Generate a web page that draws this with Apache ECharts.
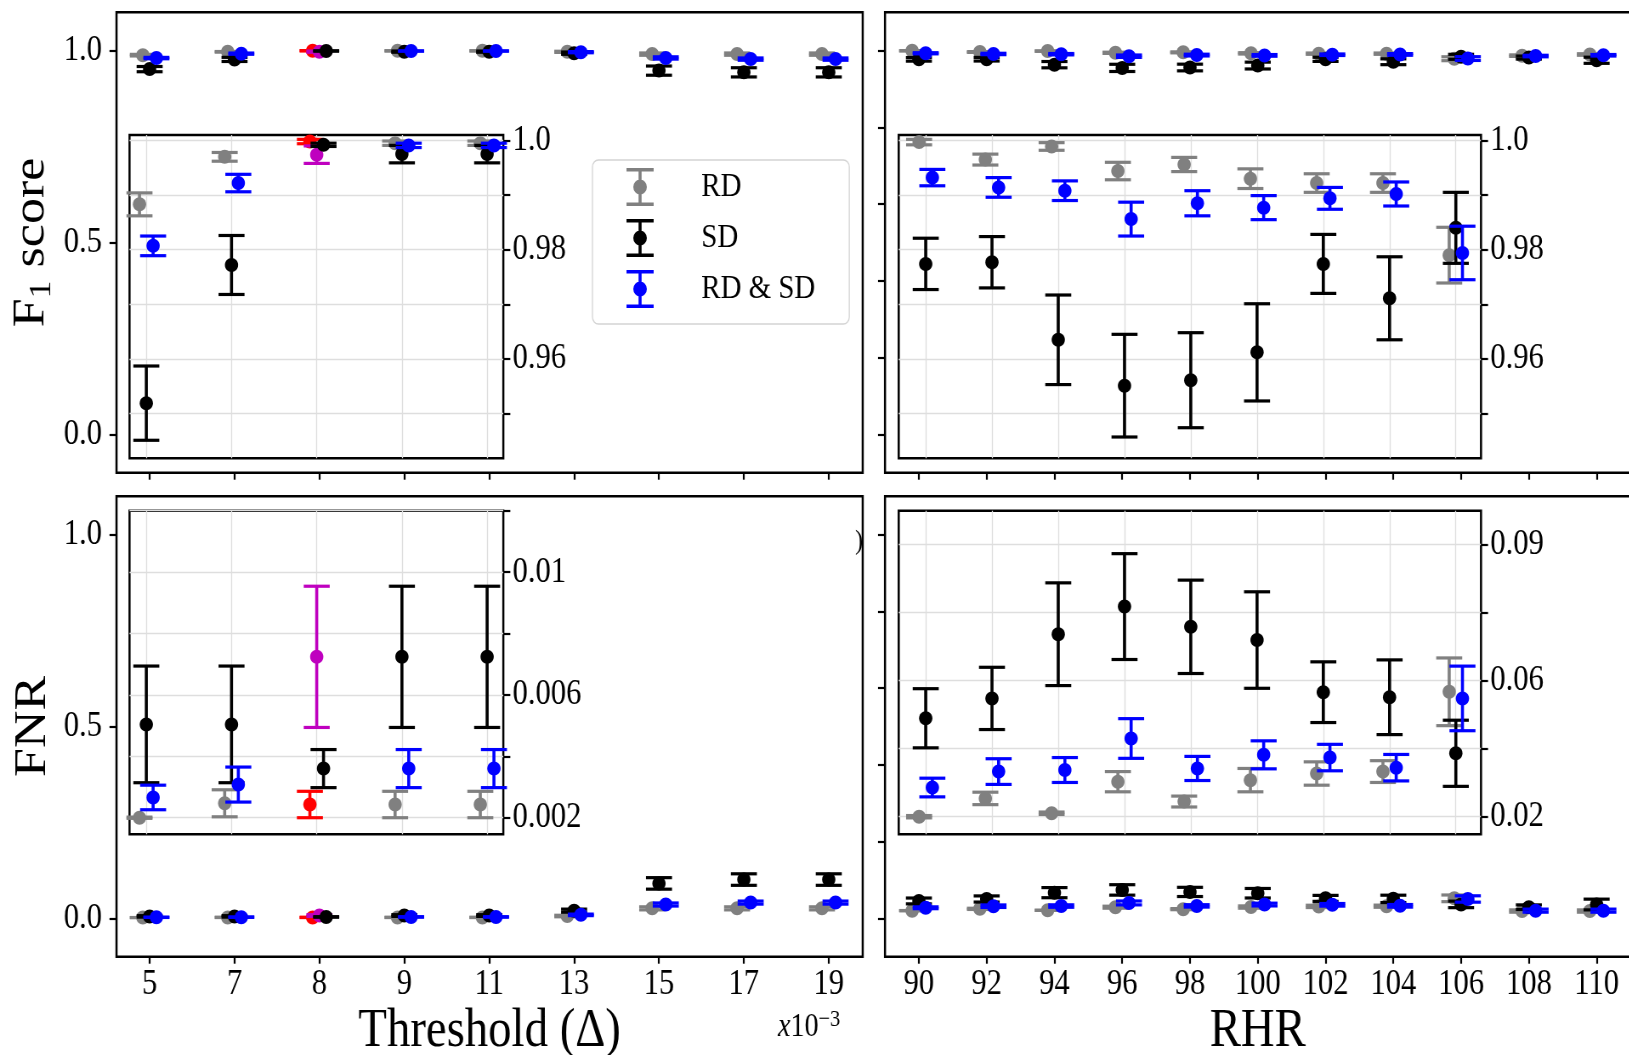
<!DOCTYPE html>
<html>
<head>
<meta charset="utf-8">
<script src="https://cdn.jsdelivr.net/npm/echarts@6/dist/echarts.min.js"></script>
<style>
  html, body { margin: 0; padding: 0; width: 1629px; height: 1055px; overflow: hidden; background: #fff; }
  #chart { height: 1055px; transform-origin: 0 0; }
</style>
</head>
<body>
<div id="chart"></div>
<script>
// ---------------------------------------------------------------------------
// Data: mean and standard error of the detection scores
// ---------------------------------------------------------------------------
const THRESHOLD_LABELS = ['5', '7', '8', '9', '11', '13', '15', '17', '19'];   // x10^-3
const RHR_VALUES = [90, 92, 94, 96, 98, 100, 102, 104, 106, 108, 110];
const SELECTED_THRESHOLD = '8';

// F1 score vs threshold
const F1_THR_RD        = [0.9883, 0.9970, 0.9998, 0.9995, 0.9995, 0.9970, 0.9910, 0.9910, 0.9910];
const F1_THR_RD_ERR    = [0.0021, 0.0008, 0.0004, 0.0004, 0.0004, 0.0015, 0.0030, 0.0030, 0.0030];
const F1_THR_SD        = [0.9519, 0.9772, 0.9974, 0.9975, 0.9975, 0.9935, 0.9480, 0.9435, 0.9435];
const F1_THR_SD_ERR    = [0.0068, 0.0054, 0.0016, 0.0016, 0.0016, 0.0030, 0.0120, 0.0120, 0.0120];
const F1_THR_RDSD      = [0.9807, 0.9922, 0.9992, 0.9991, 0.9991, 0.9960, 0.9810, 0.9780, 0.9780];
const F1_THR_RDSD_ERR  = [0.0018, 0.0016, 0.0003, 0.0004, 0.0004, 0.0015, 0.0030, 0.0030, 0.0030];

// FNR vs threshold
const FNR_THR_RD       = [0.00200, 0.00247, 0.00243, 0.00243, 0.00243, 0.006, 0.026, 0.026, 0.026];
const FNR_THR_RD_ERR   = [0.00002, 0.00044, 0.00043, 0.00043, 0.00043, 0.002, 0.004, 0.004, 0.004];
const FNR_THR_SD       = [0.00504, 0.00504, 0.00724, 0.00724, 0.00724, 0.020, 0.091, 0.101, 0.101];
const FNR_THR_SD_ERR   = [0.00190, 0.00190, 0.00230, 0.00230, 0.00230, 0.004, 0.015, 0.015, 0.015];
const FNR_THR_RDSD     = [0.00266, 0.00308, 0.00360, 0.00360, 0.00360, 0.009, 0.036, 0.041, 0.041];
const FNR_THR_RDSD_ERR = [0.00040, 0.00057, 0.00062, 0.00062, 0.00062, 0.002, 0.004, 0.004, 0.004];

// F1 score vs resting heart rate
const F1_RHR_RD        = [0.9997, 0.9965, 0.9989, 0.9944, 0.9956, 0.9930, 0.9922, 0.9922, 0.9790, 0.9870, 0.9900];
const F1_RHR_RD_ERR    = [0.0005, 0.0010, 0.0007, 0.0016, 0.0013, 0.0018, 0.0017, 0.0017, 0.0051, 0.0020, 0.0020];
const F1_RHR_SD        = [0.9774, 0.9777, 0.9635, 0.9551, 0.9561, 0.9612, 0.9774, 0.9711, 0.9840, 0.9820, 0.9750];
const F1_RHR_SD_ERR    = [0.0047, 0.0047, 0.0082, 0.0094, 0.0087, 0.0089, 0.0054, 0.0076, 0.0065, 0.0040, 0.0080];
const F1_RHR_RDSD      = [0.9932, 0.9914, 0.9908, 0.9856, 0.9885, 0.9877, 0.9894, 0.9902, 0.9794, 0.9860, 0.9880];
const F1_RHR_RDSD_ERR  = [0.0015, 0.0018, 0.0018, 0.0031, 0.0023, 0.0022, 0.0020, 0.0022, 0.0049, 0.0020, 0.0020];

// FNR vs resting heart rate
const FNR_RHR_RD       = [0.0200, 0.0247, 0.0209, 0.0290, 0.0239, 0.0294, 0.0311, 0.0316, 0.0521, 0.0190, 0.0190];
const FNR_RHR_RD_ERR   = [0.0003, 0.0016, 0.0003, 0.0026, 0.0014, 0.0030, 0.0030, 0.0028, 0.0087, 0.0030, 0.0030];
const FNR_RHR_SD       = [0.0453, 0.0504, 0.0669, 0.0740, 0.0688, 0.0654, 0.0520, 0.0507, 0.0363, 0.0290, 0.0360];
const FNR_RHR_SD_ERR   = [0.0076, 0.0080, 0.0132, 0.0136, 0.0120, 0.0124, 0.0078, 0.0096, 0.0085, 0.0060, 0.0140];
const FNR_RHR_RDSD     = [0.0275, 0.0316, 0.0320, 0.0401, 0.0324, 0.0359, 0.0352, 0.0326, 0.0504, 0.0200, 0.0200];
const FNR_RHR_RDSD_ERR = [0.0024, 0.0033, 0.0032, 0.0051, 0.0031, 0.0036, 0.0034, 0.0034, 0.0083, 0.0040, 0.0040];

// Points shown in the zoomed insets
const INSET_THRESHOLD_COUNT = 5;   // 5 .. 11
const INSET_RHR_COUNT = 9;         // 90 .. 106

// Tick values and labels
const MAIN_Y_TICKS_LEFT = [0, 0.5, 1.0];
const MAIN_Y_TICKS_RIGHT = [0, 0.2, 0.4, 0.6, 0.8, 1.0];
const F1_INSET_TICKS = [0.95, 0.96, 0.97, 0.98, 0.99, 1.0];
const F1_INSET_LABEL_VALUES = [0.96, 0.98, 1.0];
const F1_INSET_LABELS = ['0.96', '0.98', '1.0'];
const FNR_THR_INSET_TICKS = [0.002, 0.004, 0.006, 0.008, 0.010, 0.012];
const FNR_THR_INSET_LABEL_VALUES = [0.002, 0.006, 0.010];
const FNR_THR_INSET_LABELS = ['0.002', '0.006', '0.01'];
const FNR_RHR_INSET_TICKS = [0.02, 0.0375, 0.055, 0.0725, 0.09];
const FNR_RHR_INSET_LABEL_VALUES = [0.02, 0.055, 0.09];
const FNR_RHR_INSET_LABELS = ['0.02', '0.06', '0.09'];

// ---------------------------------------------------------------------------
// Styling / layout
// ---------------------------------------------------------------------------
const SX = 0.85;                       // horizontal compression of the figure
const FONT = "'Liberation Serif', 'Times New Roman', serif";
const C_RD = '#808080', C_SD = '#000000', C_RDSD = '#0000ff';
const C_SEL_RD = '#ff0000', C_SEL_SD = '#bf00bf', C_SEL_RDSD = '#000000';
const STEM_W = 3.6, CAP_W = 3.2, CAP_HALF = 15.3, MARK_RX = 7.8, MARK_RY = 7.0;
const TICK_FONT = 36;
const TITLE_FONT = 55;
const GRID_LINE = { color: '#dedede', width: 1.3 };

const el = document.getElementById('chart');
el.style.width = (1629 / SX) + 'px';
el.style.transform = 'scaleX(' + SX + ')';
const chart = echarts.init(el, null, { renderer: 'canvas' });

// rectangle given in page pixels -> grid box in chart pixels
function box(l, t, r, b, extra) {
  return Object.assign({
    left: l / SX, top: t, width: (r - l) / SX, height: b - t,
    outerBoundsMode: 'none', containLabel: false,
    show: true, borderColor: '#000', borderWidth: 2.5, backgroundColor: 'transparent'
  }, extra || {});
}

const grids = [
  box(116.5, 12.3, 862.7, 472.7),                         // 0 F1 vs threshold
  box(885, 12.3, 1630.5, 472.7),                          // 1 F1 vs RHR
  box(116.5, 496.2, 862.7, 956.7),                        // 2 FNR vs threshold
  box(885, 496.2, 1630.5, 956.7),                         // 3 FNR vs RHR
  box(129.5, 135, 503.3, 458.3, { backgroundColor: '#fff' }),   // 4 inset
  box(898.7, 135, 1481, 458.3, { backgroundColor: '#fff' }),    // 5 inset
  box(129.5, 510.7, 503.3, 834.3, { backgroundColor: '#fff' }), // 6 inset
  box(898.7, 510.7, 1481, 834.3, { backgroundColor: '#fff' })   // 7 inset
];

const thrIdx = THRESHOLD_LABELS.map((_, i) => i);
const selIdx = THRESHOLD_LABELS.indexOf(SELECTED_THRESHOLD);
const tickStyle = { color: '#000', width: 2.2 };
const labelBase = { fontFamily: FONT, fontSize: TICK_FONT, color: '#000' };
const noLine = { show: false, onZero: false };

function mainX(grid, min, max, ticks, fmt, showLabels, name) {
  return {
    gridIndex: grid, type: 'value', min, max, position: 'bottom',
    axisLine: noLine, splitLine: { show: false },
    axisTick: { show: true, customValues: ticks, length: 7, lineStyle: tickStyle },
    axisLabel: Object.assign({ show: showLabels, customValues: ticks, formatter: fmt, margin: 10 }, labelBase),
    name: name || '', nameLocation: 'middle', nameGap: 47,
    nameTextStyle: { fontFamily: FONT, fontSize: TITLE_FONT, color: '#000' }
  };
}
function mainY(grid, ticks, showLabels, name, nameStyle, gap) {
  return {
    gridIndex: grid, type: 'value', min: -0.1, max: 1.1, position: 'left',
    axisLine: noLine, splitLine: { show: false },
    axisTick: { show: true, customValues: ticks, length: 7 / SX, lineStyle: tickStyle },
    axisLabel: Object.assign({ show: showLabels, customValues: ticks, formatter: v => v.toFixed(1), margin: 17 }, labelBase),
    name: name || '', nameLocation: 'middle', nameRotate: 90, nameGap: gap || 72,
    nameTextStyle: nameStyle || { fontFamily: FONT, fontSize: 52, color: '#000' }
  };
}
function insetX(grid, min, max, lines) {
  return {
    gridIndex: grid, type: 'value', min, max, position: 'bottom',
    axisLine: noLine, axisLabel: { show: false },
    axisTick: { show: false, customValues: lines },
    splitLine: { show: true, lineStyle: GRID_LINE }
  };
}
function insetY(grid, min, max, ticks, labelValues, labels) {
  return {
    gridIndex: grid, type: 'value', min, max, position: 'right',
    axisLine: noLine,
    axisTick: { show: true, customValues: ticks, length: 7 / SX, lineStyle: tickStyle },
    axisLabel: Object.assign({
      customValues: labelValues, margin: 11,
      formatter: v => labels[labelValues.findIndex(t => Math.abs(t - v) < 1e-9)]
    }, labelBase),
    splitLine: { show: true, lineStyle: GRID_LINE }
  };
}

const xAxes = [
  mainX(0, -0.39, 8.40, thrIdx, v => THRESHOLD_LABELS[Math.round(v)], false),
  mainX(1, 89, 111, RHR_VALUES, v => String(v), false),
  mainX(2, -0.39, 8.40, thrIdx, v => THRESHOLD_LABELS[Math.round(v)], true, 'Threshold (\u0394)'),
  mainX(3, 89, 111, RHR_VALUES, v => String(v), true, 'RHR'),
  insetX(4, -0.197, 4.19, thrIdx.slice(0, INSET_THRESHOLD_COUNT)),
  insetX(5, 89.185, 106.76, RHR_VALUES.slice(0, INSET_RHR_COUNT)),
  insetX(6, -0.197, 4.19, thrIdx.slice(0, INSET_THRESHOLD_COUNT)),
  insetX(7, 89.185, 106.76, RHR_VALUES.slice(0, INSET_RHR_COUNT))
];

const f1NameStyle = {
  fontFamily: FONT, fontSize: 52, color: '#000',
  rich: {
    b: { fontFamily: FONT, fontSize: 52, lineHeight: 60, color: '#000' },
    s: { fontFamily: FONT, fontSize: 36, lineHeight: 36, verticalAlign: 'bottom', color: '#000' }
  }
};

const yAxes = [
  mainY(0, MAIN_Y_TICKS_LEFT, true, '{b|F}{s|1}{b| score}', f1NameStyle, 70),
  mainY(1, MAIN_Y_TICKS_RIGHT, false),
  mainY(2, MAIN_Y_TICKS_LEFT, true, 'FNR', null, 72),
  mainY(3, MAIN_Y_TICKS_RIGHT, false),
  insetY(4, 0.9418, 1.0010, F1_INSET_TICKS, F1_INSET_LABEL_VALUES, F1_INSET_LABELS),
  insetY(5, 0.9418, 1.0010, F1_INSET_TICKS, F1_INSET_LABEL_VALUES, F1_INSET_LABELS),
  insetY(6, 0.00146, 0.012, FNR_THR_INSET_TICKS, FNR_THR_INSET_LABEL_VALUES, FNR_THR_INSET_LABELS),
  insetY(7, 0.01548, 0.09864, FNR_RHR_INSET_TICKS, FNR_RHR_INSET_LABEL_VALUES, FNR_RHR_INSET_LABELS)
];

// error bar: vertical stem, two caps and a filled marker
function renderErrorBar(params, api) {
  const x = api.value(0), m = api.value(1), e = api.value(2);
  const p = api.coord([x, m]);
  const hi = api.coord([x, m + e]);
  const lo = api.coord([x, m - e]);
  const color = api.visual('color');
  return {
    type: 'group',
    children: [
      { type: 'line', shape: { x1: p[0], y1: hi[1], x2: p[0], y2: lo[1] }, style: { stroke: color, lineWidth: STEM_W } },
      { type: 'line', shape: { x1: p[0] - CAP_HALF, y1: hi[1], x2: p[0] + CAP_HALF, y2: hi[1] }, style: { stroke: color, lineWidth: CAP_W } },
      { type: 'line', shape: { x1: p[0] - CAP_HALF, y1: lo[1], x2: p[0] + CAP_HALF, y2: lo[1] }, style: { stroke: color, lineWidth: CAP_W } },
      { type: 'ellipse', shape: { cx: p[0], cy: p[1], rx: MARK_RX, ry: MARK_RY }, style: { fill: color } }
    ]
  };
}

function errorSeries(name, axis, xs, means, errs, shift, count, color, selColor) {
  const data = [];
  for (let i = 0; i < count; i++) {
    const item = { value: [xs[i] + shift, means[i], errs[i]] };
    if (selColor && i === selIdx) item.itemStyle = { color: selColor };
    data.push(item);
  }
  return {
    type: 'custom', name, xAxisIndex: axis, yAxisIndex: axis,
    itemStyle: { color }, encode: { x: 0, y: 1 },
    renderItem: renderErrorBar, data, silent: true
  };
}

const THR_SHIFT = 0.08, RHR_SHIFT = 0.2;
const series = [];
function addGroup(axis, xs, rd, rdE, sd, sdE, rdsd, rdsdE, shift, count, withSel) {
  series.push(errorSeries('RD', axis, xs, rd, rdE, -shift, count, C_RD, withSel ? C_SEL_RD : null));
  series.push(errorSeries('SD', axis, xs, sd, sdE, 0, count, C_SD, withSel ? C_SEL_SD : null));
  series.push(errorSeries('RD & SD', axis, xs, rdsd, rdsdE, shift, count, C_RDSD, withSel ? C_SEL_RDSD : null));
}
const nT = THRESHOLD_LABELS.length, nR = RHR_VALUES.length;
addGroup(0, thrIdx, F1_THR_RD, F1_THR_RD_ERR, F1_THR_SD, F1_THR_SD_ERR, F1_THR_RDSD, F1_THR_RDSD_ERR, THR_SHIFT, nT, true);
addGroup(1, RHR_VALUES, F1_RHR_RD, F1_RHR_RD_ERR, F1_RHR_SD, F1_RHR_SD_ERR, F1_RHR_RDSD, F1_RHR_RDSD_ERR, RHR_SHIFT, nR, false);
addGroup(2, thrIdx, FNR_THR_RD, FNR_THR_RD_ERR, FNR_THR_SD, FNR_THR_SD_ERR, FNR_THR_RDSD, FNR_THR_RDSD_ERR, THR_SHIFT, nT, true);
addGroup(3, RHR_VALUES, FNR_RHR_RD, FNR_RHR_RD_ERR, FNR_RHR_SD, FNR_RHR_SD_ERR, FNR_RHR_RDSD, FNR_RHR_RDSD_ERR, RHR_SHIFT, nR, false);
addGroup(4, thrIdx, F1_THR_RD, F1_THR_RD_ERR, F1_THR_SD, F1_THR_SD_ERR, F1_THR_RDSD, F1_THR_RDSD_ERR, THR_SHIFT, INSET_THRESHOLD_COUNT, true);
addGroup(5, RHR_VALUES, F1_RHR_RD, F1_RHR_RD_ERR, F1_RHR_SD, F1_RHR_SD_ERR, F1_RHR_RDSD, F1_RHR_RDSD_ERR, RHR_SHIFT, INSET_RHR_COUNT, false);
addGroup(6, thrIdx, FNR_THR_RD, FNR_THR_RD_ERR, FNR_THR_SD, FNR_THR_SD_ERR, FNR_THR_RDSD, FNR_THR_RDSD_ERR, THR_SHIFT, INSET_THRESHOLD_COUNT, true);
addGroup(7, RHR_VALUES, FNR_RHR_RD, FNR_RHR_RD_ERR, FNR_RHR_SD, FNR_RHR_SD_ERR, FNR_RHR_RDSD, FNR_RHR_RDSD_ERR, RHR_SHIFT, INSET_RHR_COUNT, false);

// legend symbol: capped error bar with marker (32 x 38 box), all sub-paths clockwise
const EB_ICON = 'path://M0,0H32V3.4H0Z M14.2,3H17.8V35H14.2Z M0,34.6H32V38H0Z M8,19A8,7.5 0 1,1 24,19A8,7.5 0 1,1 8,19Z';

chart.setOption({
  animation: false,
  backgroundColor: '#fff',
  grid: grids,
  xAxis: xAxes,
  yAxis: yAxes,
  series,
  legend: {
    data: [{ name: 'RD', icon: EB_ICON }, { name: 'SD', icon: EB_ICON }, { name: 'RD & SD', icon: EB_ICON }],
    orient: 'vertical', left: 697, top: 160,
    itemWidth: 32, itemHeight: 38, itemGap: 13,
    padding: [8, 40, 16, 40],
    backgroundColor: 'rgba(255,255,255,0.85)', borderColor: '#d4d4d4', borderWidth: 1.3, borderRadius: 7,
    selectedMode: false,
    formatter: n => '{g| }' + n,
    textStyle: { fontFamily: FONT, fontSize: 34, color: '#000', rich: { g: { width: 51 } } }
  },
  graphic: [
    {
      type: 'text', left: 778 / SX, top: 1008,
      style: {
        text: '{i|x}{n|10}{p|\u22123}',
        rich: {
          i: { fontFamily: FONT, fontStyle: 'italic', fontSize: 33, lineHeight: 38, fill: '#000' },
          n: { fontFamily: FONT, fontSize: 33, lineHeight: 38, fill: '#000' },
          p: { fontFamily: FONT, fontSize: 24, lineHeight: 24, verticalAlign: 'top', fill: '#000' }
        }
      }
    },
    {
      type: 'text', left: 855 / SX, top: 528,
      style: { text: ')', fontFamily: FONT, fontSize: 28, fill: '#000' }
    }
  ]
});
</script>
</body>
</html>
